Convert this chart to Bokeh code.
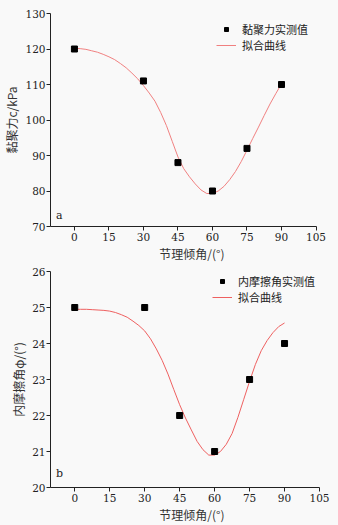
from bokeh.plotting import figure
from bokeh.layouts import column
from bokeh.models import Range1d, FixedTicker, Label, Legend, LegendItem
from bokeh.embed import file_html
from bokeh.resources import INLINE

# ---- data ----
angles = [0, 30, 45, 60, 75, 90]
cohesion = [120, 111, 88, 80, 92, 110]
friction = [25, 25, 22, 21, 23, 24]

fit_x = [0, 2.5, 5, 7.5, 10, 12.5, 15, 17.5, 20, 22.5, 25, 27.5, 30, 32.5, 35, 37.5,
         40, 42.5, 45, 47.5, 50, 52.5, 55, 57.5, 60, 62.5, 65, 67.5, 70, 72.5, 75,
         77.5, 80, 82.5, 85, 87.5, 90]
fit_c = [120.2, 120.1, 119.9, 119.5, 119.1, 118.5, 117.8, 117.0, 115.9, 114.7, 113.2,
         111.6, 109.7, 107.6, 105.3, 102.1, 98.4, 94.0, 89.6, 86.3, 84.0, 82.0, 80.3,
         79.3, 79.3, 80.0, 81.3, 83.2, 85.5, 88.3, 91.5, 94.8, 98.0, 101.3, 104.5,
         107.4, 110.2]
fit_phi = [24.95, 24.95, 24.95, 24.94, 24.93, 24.92, 24.9, 24.86, 24.8, 24.73, 24.62,
           24.5, 24.35, 24.13, 23.85, 23.53, 23.15, 22.72, 22.3, 21.93, 21.6, 21.28,
           21.05, 20.9, 20.9, 21.0, 21.2, 21.5, 21.95, 22.45, 22.95, 23.42, 23.8,
           24.08, 24.3, 24.47, 24.57]

x_ticks = [0, 15, 30, 45, 60, 75, 90, 105]
c_ticks = [70, 80, 90, 100, 110, 120, 130]
phi_ticks = [20, 21, 22, 23, 24, 25, 26]

BG = "#f9f9f9"
SERIF = "DejaVu Serif"
CJK = "Noto Sans CJK SC"


def make_fig(h, top, bottom, x_end, yr, yticks, ylabel, pts_y, fy, line_color,
             leg_label, letter, letter_y, leg_loc):
    p = figure(width=338, height=h, output_backend="svg", toolbar_location=None,
               x_range=Range1d(-10.4, x_end), y_range=Range1d(*yr),
               min_border_left=46, min_border_right=5, min_border_top=top,
               min_border_bottom=bottom)
    p.background_fill_color = BG
    p.border_fill_color = BG
    p.outline_line_color = None
    p.grid.visible = False
    for ax in (p.xaxis[0], p.yaxis[0]):
        ax.axis_line_color = "#222222"
        ax.major_tick_line_color = "#222222"
        ax.major_tick_in = 0
        ax.major_tick_out = 4
        ax.minor_tick_line_color = None
        ax.major_label_text_font = SERIF
        ax.major_label_text_font_size = "10.5px"
        ax.major_label_text_color = "#222222"
        ax.axis_label_text_font = CJK
        ax.axis_label_text_font_style = "normal"
        ax.axis_label_text_font_size = "12px"
        ax.axis_label_text_color = "#333333"
    p.xaxis.bounds = (-10.4, 105)
    p.xaxis.ticker = FixedTicker(ticks=x_ticks)
    p.yaxis.ticker = FixedTicker(ticks=yticks)
    p.xaxis.axis_label = "节理倾角/(°)"
    p.yaxis.axis_label = ylabel
    p.xaxis.major_label_standoff = 2
    p.xaxis.axis_label_standoff = 1
    p.yaxis.major_label_standoff = 1
    p.yaxis.axis_label_standoff = 2

    ln = p.line(fit_x, fy, line_color=line_color, line_width=1)
    sc = p.scatter(angles, pts_y, marker="square", size=6, fill_color="black",
                   line_color="black")

    leg = Legend(items=[LegendItem(label=leg_label, renderers=[sc]),
                        LegendItem(label="拟合曲线", renderers=[ln])],
                 location=leg_loc, background_fill_alpha=0, border_line_color=None,
                 label_text_font=CJK, label_text_font_size="11px",
                 label_text_color="#222222",
                 glyph_width=20, glyph_height=10, label_height=11, label_standoff=6,
                 spacing=0, padding=0, margin=0)
    p.add_layout(leg)
    p.add_layout(Label(x=-8, y=letter_y, text=letter, text_font=SERIF,
                       text_font_size="11px", text_color="#222222"))
    return p


p1 = make_fig(264, 13, 30, 112.6, (70, 130), c_ticks, "黏聚力c/kPa", cohesion,
              fit_c, "#f08080", "黏聚力实测值", "a", 71.2, (166, 173))
p2 = make_fig(261, 7, 35, 111.0, (20, 26), phi_ticks, "内摩擦角φ/(°)", friction,
              fit_phi, "#ee6060", "内摩擦角实测值", "b", 20.2, (162, 182))

layout = column(p1, p2, spacing=0)
layout.styles = {"background-color": BG}
open("out.html", "w").write(file_html(layout, INLINE))
